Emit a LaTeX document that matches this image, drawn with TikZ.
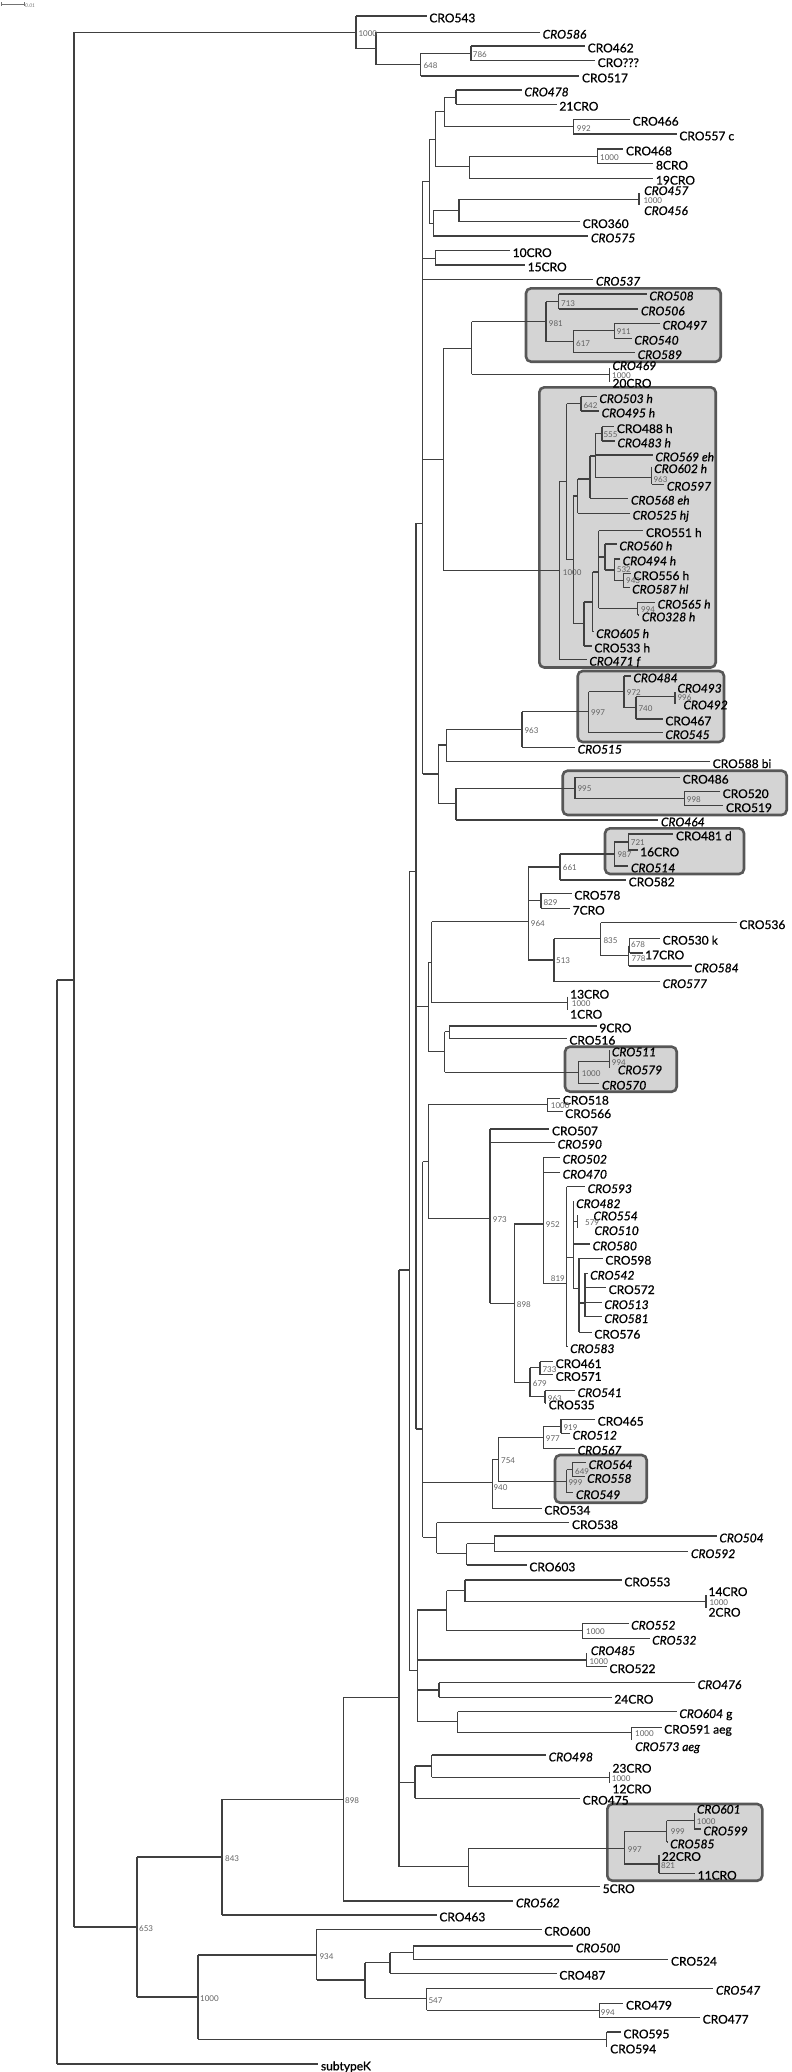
\documentclass[tikz,border=0pt]{standalone}
\usepackage{fontspec}
\setmainfont{Lato}
\newfontfamily\labfont{Lato}[FakeBold=0.9]
\newcommand\brn[2]{\draw[br] (#1 |- #2) -- (#2);}
\newcommand\vsp[3]{\draw[br] (#1 |- #2) -- (#1 |- #3);}
\begin{document}
\begin{tikzpicture}[x=1pt,y=-1pt,
  br/.style={line width=1.15pt,draw=black!75},
  lf/.style={anchor=west,inner xsep=2.5pt,inner ysep=0pt,text height=12.6pt,text depth=0pt,font=\labfont\fontsize{12}{12}\selectfont,text=black},
  li/.style={lf,font=\labfont\fontsize{12}{12}\selectfont\itshape},
  bs/.style={anchor=west,inner sep=0pt,text height=5.8pt,text depth=0pt,font=\fontsize{8}{8}\selectfont,text=black!62},
  cbox/.style={draw=black!66,line width=2.6pt,fill=black!17,rounded corners=5pt}]
\useasboundingbox (0,0) rectangle (792,2072);
% scale bar
\coordinate (sb1) at (1,4); \coordinate (sb2) at (24,4);
\draw[black!55,line width=0.6pt] (sb1) -- (sb2) ([yshift=2pt]sb1) -- ([yshift=-2pt]sb1) ([yshift=2pt]sb2) -- ([yshift=-2pt]sb2);
\node[anchor=west,inner sep=0pt,font=\fontsize{5}{5}\selectfont\itshape,text=black!55] (sbl) at (25,5.5) {0.01};
% boxes
\draw[cbox] (526,288.3) rectangle (720.7,361.7);
\draw[cbox] (539.3,387.3) rectangle (715.7,667.5);
\draw[cbox] (577.7,671) rectangle (724,742);
\draw[cbox] (562.7,770.7) rectangle (786.7,815);
\draw[cbox] (605,828.3) rectangle (744,874);
\draw[cbox] (565,1046.7) rectangle (676.7,1091.7);
\draw[cbox] (555,1455) rectangle (646.7,1502.7);
\draw[cbox] (607.3,1804) rectangle (762.3,1880.7);
% ---------------- leaves ----------------
\node[lf] (l543) at (426.7,16) {CRO543};
\node[li] (l586) at (540,32.3) {CRO586};
\node[lf] (l462) at (585,46) {CRO462};
\node[lf] (lq) at (595,60.7) {CRO???};
\node[lf] (l517) at (579.3,76) {CRO517};
\node[li] (l478) at (521.7,90) {CRO478};
\node[lf] (l21) at (556.7,104.3) {21CRO};
\node[lf] (l466) at (630,119.3) {CRO466};
\node[lf] (l557) at (676.7,134) {CRO557 c};
\node[lf] (l468) at (623.3,149) {CRO468};
\node[lf] (l8) at (653.3,163.3) {8CRO};
\node[lf] (l19) at (653.3,178.3) {19CRO};
\node[li] (l457) at (641.5,188.7) {CRO457};
\node[li] (l456) at (641.5,208.7) {CRO456};
\node[lf] (l360) at (580,221.7) {CRO360};
\node[li] (l575) at (588.3,236) {CRO575};
\node[lf] (l10) at (510,250.7) {10CRO};
\node[lf] (l15) at (525,265) {15CRO};
\node[li] (l537) at (593.3,279.3) {CRO537};
\node[li] (l508) at (646.7,294) {CRO508};
\node[li] (l506) at (638.3,309) {CRO506};
\node[li] (l497) at (660,323.3) {CRO497};
\node[li] (l540) at (631.7,338.3) {CRO540};
\node[li] (l589) at (635,352.7) {CRO589};
\node[li] (l469) at (609.8,363.7) {CRO469};
\node[lf] (l20) at (609.8,381.3) {20CRO};
\node[li] (l503) at (596.7,396.7) {CRO503 h};
\node[li] (l495) at (599,411) {CRO495 h};
\node[lf] (l488) at (614.2,426.7) {CRO488 h};
\node[li] (l483) at (614.8,441) {CRO483 h};
\node[li] (l569) at (652.7,455) {CRO569 eh};
\node[li] (l602) at (651.5,466.7) {CRO602 h};
\node[li] (l597) at (664.2,484.3) {CRO597};
\node[li] (l568) at (628.3,498.3) {CRO568 eh};
\node[li] (l525) at (630,513.3) {CRO525 hj};
\node[lf] (l551) at (643.3,530.7) {CRO551 h};
\node[li] (l560) at (616.7,544) {CRO560 h};
\node[li] (l494) at (620,559) {CRO494 h};
\node[lf] (l556) at (630.8,573.7) {CRO556 h};
\node[li] (l587) at (629.5,587.3) {CRO587 hl};
\node[li] (l565) at (655,602.3) {CRO565 h};
\node[li] (l328) at (639.2,615) {CRO328 h};
\node[li] (l605) at (593.5,631.7) {CRO605 h};
\node[lf] (l533) at (591.7,646) {CRO533 h};
\node[li] (l471) at (586.7,659.3) {CRO471 f};
\node[li] (l484) at (630.7,676) {CRO484};
\node[li] (l493) at (674.8,686.3) {CRO493};
\node[li] (l492) at (680.8,703) {CRO492};
\node[lf] (l467) at (662.7,719) {CRO467};
\node[li] (l545) at (662.7,732.7) {CRO545};
\node[li] (l515) at (575,747.3) {CRO515};
\node[lf] (l588) at (710,761.7) {CRO588 bi};
\node[lf] (l486) at (680,777.3) {CRO486};
\node[lf] (l520) at (720,791.7) {CRO520};
\node[lf] (l519) at (723.3,805.7) {CRO519};
\node[li] (l464) at (658.3,820) {CRO464};
\node[lf] (l481) at (673.3,834) {CRO481 d};
\node[lf] (l16) at (637.5,850) {16CRO};
\node[li] (l514) at (628.3,866) {CRO514};
\node[lf] (l582) at (626,880) {CRO582};
\node[lf] (l578) at (571.7,893.3) {CRO578};
\node[lf] (l7) at (570,908.3) {7CRO};
\node[lf] (l536) at (736.7,922.7) {CRO536};
\node[lf] (l530) at (660,938.3) {CRO530 k};
\node[lf] (l17) at (642.5,953) {17CRO};
\node[li] (l584) at (691.7,966) {CRO584};
\node[li] (l577) at (660,981.7) {CRO577};
\node[lf] (l13) at (567.5,992.3) {13CRO};
\node[lf] (l1) at (567.5,1012.3) {1CRO};
\node[lf] (l9) at (596.7,1026) {9CRO};
\node[lf] (l516) at (566.7,1038.3) {CRO516};
\node[li] (l511) at (609.2,1050) {CRO511};
\node[li] (l579) at (615.2,1068) {CRO579};
\node[li] (l570) at (599.3,1083.3) {CRO570};
\node[lf] (l518) at (560.2,1098.3) {CRO518};
\node[lf] (l566) at (562.5,1111.7) {CRO566};
\node[lf] (l507) at (549.3,1129) {CRO507};
\node[li] (l590) at (555,1142.3) {CRO590};
\node[li] (l502) at (560,1157.3) {CRO502};
\node[li] (l470) at (560,1172.3) {CRO470};
\node[li] (l593) at (585,1186.7) {CRO593};
\node[li] (l482) at (573.5,1201.7) {CRO482};
\node[li] (l554) at (590.8,1214) {CRO554};
\node[li] (l510) at (591.8,1228.7) {CRO510};
\node[li] (l580) at (590,1244) {CRO580};
\node[lf] (l598) at (602.7,1258.3) {CRO598};
\node[li] (l542) at (587.5,1273.3) {CRO542};
\node[lf] (l572) at (606,1287.7) {CRO572};
\node[li] (l513) at (601.7,1302.7) {CRO513};
\node[li] (l581) at (601.7,1316.7) {CRO581};
\node[lf] (l576) at (591.7,1332.3) {CRO576};
\node[li] (l583) at (567.5,1346.7) {CRO583};
\node[lf] (l461) at (553,1361.7) {CRO461};
\node[lf] (l571) at (553,1374.5) {CRO571};
\node[li] (l541) at (575,1390.7) {CRO541};
\node[lf] (l535) at (546,1403) {CRO535};
\node[lf] (l465) at (595,1419.3) {CRO465};
\node[li] (l512) at (570,1433.3) {CRO512};
\node[li] (l567) at (575,1448.3) {CRO567};
\node[li] (l564) at (586,1462.7) {CRO564};
\node[li] (l558) at (584.5,1476.5) {CRO558};
\node[li] (l549) at (573.3,1492.7) {CRO549};
\node[lf] (l534) at (541.7,1508.3) {CRO534};
\node[lf] (l538) at (569.3,1522.7) {CRO538};
\node[li] (l504) at (716.7,1536) {CRO504};
\node[li] (l592) at (688.3,1551.7) {CRO592};
\node[lf] (l603) at (526.7,1565) {CRO603};
\node[lf] (l553) at (621.7,1580) {CRO553};
\node[lf] (l14) at (705.8,1589.7) {14CRO};
\node[lf] (l2) at (705.8,1610.3) {2CRO};
\node[li] (l552) at (628.5,1623.3) {CRO552};
\node[li] (l532) at (649.5,1638.3) {CRO532};
\node[li] (l485) at (588.2,1648.7) {CRO485};
\node[lf] (l522) at (606.8,1666.7) {CRO522};
\node[li] (l476) at (695,1682.7) {CRO476};
\node[lf] (l24) at (611.7,1697.3) {24CRO};
\node[lf] (l604) at (676.7,1711.7) {{\itshape CRO604} g};
\node[lf] (l591) at (661.5,1727.3) {CRO591 aeg};
\node[li] (l573) at (632.5,1744.7) {CRO573 aeg};
\node[li] (l498) at (546,1755) {CRO498};
\node[lf] (l23) at (609.8,1766.3) {23CRO};
\node[lf] (l12) at (609.8,1787) {12CRO};
\node[lf] (l475) at (580,1798.3) {CRO475};
\node[li] (l601) at (694.2,1807.3) {CRO601};
\node[li] (l599) at (700.8,1829) {CRO599};
\node[li] (l585) at (667.5,1842) {CRO585};
\node[lf] (l22) at (659.2,1854.5) {22CRO};
\node[lf] (l11) at (695,1873.3) {11CRO};
\node[lf] (l5) at (600,1886.7) {5CRO};
\node[li] (l562) at (513.3,1901) {CRO562};
\node[lf] (l463) at (436.7,1915) {CRO463};
\node[lf] (l600) at (541.7,1929.3) {CRO600};
\node[li] (l500) at (573.3,1946) {CRO500};
\node[lf] (l524) at (668.3,1959.3) {CRO524};
\node[lf] (l487) at (556.7,1973.3) {CRO487};
\node[li] (l547) at (713.3,1988.3) {CRO547};
\node[lf] (l479) at (623.3,2003.3) {CRO479};
\node[lf] (l477) at (700,2017.3) {CRO477};
\node[lf] (l595) at (620.8,2032) {CRO595};
\node[lf] (l594) at (607.5,2047) {CRO594};
\node[lf] (lK) at (318.3,2064) {subtypeK};
% ---------------- internal nodes ----------------
\coordinate (ntop) at (356,32.3);
\coordinate (na1) at (376,48.5);
\coordinate (n648) at (420.7,64.7);
\coordinate (n786) at (471,53.3);
\coordinate (n478) at (456,97.2);
\coordinate (n992) at (573.3,126.7);
\coordinate (na) at (444.7,111.7);
\coordinate (n1000b) at (597.3,156.2);
\coordinate (nb2) at (469.3,166.7);
\coordinate (na2) at (435.3,139.3);
\coordinate (n1000c) at (639,199.3);
\coordinate (nc360) at (459,210.5);
\coordinate (n575) at (433.3,223.3);
\coordinate (nb) at (429.3,181.3);
\coordinate (n10) at (435.3,258.3);
\coordinate (nC) at (422.7,523.3);
\coordinate (n713) at (558.7,301.5);
\coordinate (n911) at (614.3,330.8);
\coordinate (n617) at (573.3,341.7);
\coordinate (n981) at (546,321.7);
\coordinate (n1000d) at (609.3,374.3);
\coordinate (ne2) at (471.7,348.2);
\coordinate (nD) at (443.3,459.3);
\coordinate (n642) at (581,403.8);
\coordinate (n555) at (602,433.8);
\coordinate (n963b) at (651.7,477.2);
\coordinate (n946) at (595.3,456);
\coordinate (n930) at (590,479);
\coordinate (n893) at (577.7,496);
\coordinate (n943) at (623.3,580.5);
\coordinate (n532) at (614.3,570);
\coordinate (n975) at (605,557);
\coordinate (n994b) at (637.7,608.3);
\coordinate (n956) at (598.7,572);
\coordinate (n938) at (592.7,602);
\coordinate (n912) at (584,623.3);
\coordinate (n880) at (573.3,559.7);
\coordinate (n860) at (566.7,481.7);
\coordinate (n1000x) at (559.3,570.7);
\coordinate (n996) at (675,696.7);
\coordinate (n740) at (636,707.8);
\coordinate (n972) at (624,691.5);
\coordinate (n997) at (588.7,711.5);
\coordinate (n963c) at (522,729.3);
\coordinate (nF) at (446.7,745);
\coordinate (nE) at (438.3,774);
\coordinate (n998) at (684.3,798.7);
\coordinate (n995) at (575,788.3);
\coordinate (nG) at (456,803.3);
\coordinate (n721) at (628.3,842);
\coordinate (n987) at (614.3,854);
\coordinate (n661) at (560,867);
\coordinate (n829) at (541,900.8);
\coordinate (n678) at (629.5,945.7);
\coordinate (n778) at (628.5,955.5);
\coordinate (n835) at (600.7,938.8);
\coordinate (n513) at (554,960);
\coordinate (n964) at (528.3,921.7);
\coordinate (n1000e) at (567.3,1002.7);
\coordinate (nK2) at (431.7,962.7);
\coordinate (n9) at (449.3,1031.7);
\coordinate (n994c) at (609.3,1061.7);
\coordinate (n1000f) at (578.3,1072.3);
\coordinate (nK3) at (444.7,1051.7);
\coordinate (nK1) at (428.3,1006.7);
\coordinate (n1000g) at (547.7,1104.7);
\coordinate (n579) at (577.7,1221.7);
\coordinate (n915) at (585,1303);
\coordinate (n897) at (579,1288.3);
\coordinate (nKk) at (573.3,1257.3);
\coordinate (nL) at (566.7,1283.3);
\coordinate (nM) at (543.3,1224);
\coordinate (n733) at (540,1367.5);
\coordinate (n963d) at (545,1396.5);
\coordinate (n679) at (530,1382.3);
\coordinate (nO) at (514.3,1303.3);
\coordinate (n973) at (490,1218.3);
\coordinate (nH) at (428.3,1161.7);
\coordinate (n919) at (561,1426.3);
\coordinate (n977) at (543.3,1437.5);
\coordinate (n649) at (572.3,1469.6);
\coordinate (n999) at (566.7,1481.5);
\coordinate (n754) at (498.3,1459.3);
\coordinate (n940) at (492.3,1482.7);
\coordinate (n504) at (494.3,1543.8);
\coordinate (n603) at (466.7,1553.3);
\coordinate (n538) at (436.7,1537.3);
\coordinate (nI) at (422.7,1429);
\coordinate (nJ) at (416,871.7);
\coordinate (n1000j) at (706,1601.5);
\coordinate (n465) at (465,1590.7);
\coordinate (n1000i) at (582.3,1630.8);
\coordinate (n446) at (446.7,1610);
\coordinate (n1000h) at (586.7,1660);
\coordinate (n439) at (439,1690);
\coordinate (n1000k) at (631.7,1732.7);
\coordinate (n457) at (457.7,1721.7);
\coordinate (n417) at (417.3,1670.7);
\coordinate (nQ) at (409.3,1270);
\coordinate (n1000l) at (609.3,1777.2);
\coordinate (n431) at (431.7,1766);
\coordinate (n415) at (415,1782.7);
\coordinate (n1000m) at (694.3,1820.7);
\coordinate (n999b) at (666.7,1831.5);
\coordinate (n821) at (659,1864);
\coordinate (n997b) at (624.3,1848.3);
\coordinate (n468) at (468.3,1866.7);
\coordinate (nP) at (399,1697.3);
\coordinate (nR) at (343.3,1799.3);
\coordinate (n843) at (222,1857);
\coordinate (n413) at (413.3,1952.6);
\coordinate (n390) at (390,1962.7);
\coordinate (n994d) at (599.3,2010.3);
\coordinate (n547) at (426.7,1998.3);
\coordinate (n365) at (365,1980);
\coordinate (n934) at (316.7,1955);
\coordinate (n595) at (606.7,2039.3);
\coordinate (n1000n) at (198,1997);
\coordinate (n653) at (137,1927);
\coordinate (n74) at (74,980);
\coordinate (n57) at (57,1522);
% ---------------- branches ----------------
\brn{ntop}{l543.west} \brn{ntop}{na1} \vsp{ntop}{l543.west}{na1}
\brn{na1}{l586.west} \brn{na1}{n648} \vsp{na1}{l586.west}{n648}
\brn{n648}{n786} \brn{n648}{l517.west} \vsp{n648}{n786}{l517.west}
\brn{n786}{l462.west} \brn{n786}{lq.west} \vsp{n786}{l462.west}{lq.west}
\brn{n478}{l478.west} \brn{n478}{l21.west} \vsp{n478}{l478.west}{l21.west}
\brn{n992}{l466.west} \brn{n992}{l557.west} \vsp{n992}{l466.west}{l557.west}
\brn{na}{n478} \brn{na}{n992} \vsp{na}{n478}{n992}
\brn{n1000b}{l468.west} \brn{n1000b}{l8.west} \vsp{n1000b}{l468.west}{l8.west}
\brn{nb2}{n1000b} \brn{nb2}{l19.west} \vsp{nb2}{n1000b}{l19.west}
\brn{na2}{na} \brn{na2}{nb2} \vsp{na2}{na}{nb2}
\draw[br] (n1000c) ++(0,-6) -- ++(0,12);
\brn{nc360}{n1000c} \brn{nc360}{l360.west} \vsp{nc360}{n1000c}{l360.west}
\brn{n575}{nc360} \brn{n575}{l575.west} \vsp{n575}{nc360}{l575.west}
\brn{nb}{na2} \brn{nb}{n575} \vsp{nb}{na2}{n575}
\brn{n10}{l10.west} \brn{n10}{l15.west} \vsp{n10}{l10.west}{l15.west}
\brn{nC}{nb} \brn{nC}{n10} \brn{nC}{l537.west} \brn{nC}{nD} \brn{nC}{nE} \vsp{nC}{nb}{nE}
% box 1
\brn{n713}{l508.west} \brn{n713}{l506.west} \vsp{n713}{l508.west}{l506.west}
\brn{n911}{l497.west} \brn{n911}{l540.west} \vsp{n911}{l497.west}{l540.west}
\brn{n617}{n911} \brn{n617}{l589.west} \vsp{n617}{n911}{l589.west}
\brn{n981}{n713} \brn{n981}{n617} \vsp{n981}{n713}{n617}
\draw[br] (n1000d) ++(0,-6) -- ++(0,13.4);
\brn{ne2}{n981} \brn{ne2}{n1000d} \vsp{ne2}{n981}{n1000d}
\brn{nD}{ne2} \brn{nD}{n1000x} \vsp{nD}{ne2}{n1000x}
% box 2
\brn{n642}{l503.west} \brn{n642}{l495.west} \vsp{n642}{l503.west}{l495.west}
\brn{n555}{l488.west} \brn{n555}{l483.west} \vsp{n555}{l488.west}{l483.west}
\brn{n963b}{l597.west} \vsp{n963b}{l602.west}{l597.west}
\brn{n946}{n555} \brn{n946}{l569.west} \brn{n946}{n963b} \vsp{n946}{n555}{n963b}
\brn{n930}{n946} \brn{n930}{l568.west} \vsp{n930}{n946}{l568.west}
\brn{n893}{n930} \brn{n893}{l525.west} \vsp{n893}{n930}{l525.west}
\brn{n943}{l556.west} \brn{n943}{l587.west} \vsp{n943}{l556.west}{l587.west}
\brn{n532}{l494.west} \brn{n532}{n943} \vsp{n532}{l494.west}{n943}
\brn{n975}{l560.west} \brn{n975}{n532} \vsp{n975}{l560.west}{n532}
\brn{n994b}{l565.west} \brn{n994b}{l328.west} \vsp{n994b}{l565.west}{l328.west}
\brn{n956}{l551.west} \brn{n956}{n975} \brn{n956}{n994b} \vsp{n956}{l551.west}{n994b}
\brn{n938}{n956} \brn{n938}{l605.west} \vsp{n938}{n956}{l605.west}
\brn{n912}{n938} \brn{n912}{l533.west} \vsp{n912}{n938}{l533.west}
\brn{n880}{n893} \brn{n880}{n912} \vsp{n880}{n893}{n912}
\brn{n860}{n642} \brn{n860}{n880} \vsp{n860}{n642}{n880}
\brn{n1000x}{n860} \brn{n1000x}{l471.west} \vsp{n1000x}{n860}{l471.west}
% box 3
\draw[br] (n996) ++(0,-4.7) -- ++(0,12);
\brn{n740}{n996} \brn{n740}{l467.west} \vsp{n740}{n996}{l467.west}
\brn{n972}{l484.west} \brn{n972}{n740} \vsp{n972}{l484.west}{n740}
\brn{n997}{n972} \brn{n997}{l545.west} \vsp{n997}{n972}{l545.west}
\brn{n963c}{n997} \brn{n963c}{l515.west} \vsp{n963c}{n997}{l515.west}
\brn{nF}{n963c} \brn{nF}{l588.west} \vsp{nF}{n963c}{l588.west}
\brn{nE}{nF} \brn{nE}{nG} \vsp{nE}{nF}{nG}
% box 4
\brn{n998}{l520.west} \brn{n998}{l519.west} \vsp{n998}{l520.west}{l519.west}
\brn{n995}{l486.west} \brn{n995}{n998} \vsp{n995}{l486.west}{n998}
\brn{nG}{n995} \brn{nG}{l464.west} \vsp{nG}{n995}{l464.west}
% box 5 and neighbours
\brn{n721}{l481.west} \brn{n721}{l16.west} \vsp{n721}{l481.west}{l16.west}
\brn{n987}{n721} \brn{n987}{l514.west} \vsp{n987}{n721}{l514.west}
\brn{n661}{n987} \brn{n661}{l582.west} \vsp{n661}{n987}{l582.west}
\brn{n829}{l578.west} \brn{n829}{l7.west} \vsp{n829}{l578.west}{l7.west}
\brn{n678}{l530.west} \brn{n678}{l17.west} \vsp{n678}{l530.west}{l17.west}
\brn{n778}{n678} \brn{n778}{l584.west} \vsp{n778}{n678}{l584.west}
\brn{n835}{l536.west} \brn{n835}{n778} \vsp{n835}{l536.west}{n778}
\brn{n513}{n835} \brn{n513}{l577.west} \vsp{n513}{n835}{l577.west}
\brn{n964}{n661} \brn{n964}{n829} \brn{n964}{n513} \vsp{n964}{n661}{n513}
\draw[br] (n1000e) ++(0,-6) -- ++(0,13.3);
\brn{nK2}{n964} \brn{nK2}{n1000e} \vsp{nK2}{n964}{n1000e}
\brn{n9}{l9.west} \brn{n9}{l516.west} \vsp{n9}{l9.west}{l516.west}
\draw[br] (n994c) ++(0,-11.7) -- ++(0,18.3);
\brn{n1000f}{n994c} \brn{n1000f}{l570.west} \vsp{n1000f}{n994c}{l570.west}
\brn{nK3}{n9} \brn{nK3}{n1000f} \vsp{nK3}{n9}{n1000f}
\brn{nK1}{nK2} \brn{nK1}{nK3} \vsp{nK1}{nK2}{nK3}
% H clade
\brn{n1000g}{l518.west} \brn{n1000g}{l566.west} \vsp{n1000g}{l518.west}{l566.west}
\draw[br] (n579) ++(0,-6.7) -- ++(0,13.3);
\brn{n915}{l542.west} \brn{n915}{l572.west} \brn{n915}{l513.west} \brn{n915}{l581.west} \vsp{n915}{l542.west}{l581.west}
\brn{n897}{l598.west} \brn{n897}{n915} \brn{n897}{l576.west} \vsp{n897}{l598.west}{l576.west}
\brn{nKk}{l482.west} \brn{nKk}{n579} \brn{nKk}{l580.west} \brn{nKk}{n897} \vsp{nKk}{l482.west}{n897}
\brn{nL}{l593.west} \brn{nL}{nKk} \brn{nL}{l583.west} \vsp{nL}{l593.west}{l583.west}
\brn{nM}{l502.west} \brn{nM}{l470.west} \brn{nM}{nL} \vsp{nM}{l502.west}{nL}
\brn{n733}{l461.west} \brn{n733}{l571.west} \vsp{n733}{l461.west}{l571.west}
\brn{n963d}{l541.west} \brn{n963d}{l535.west} \vsp{n963d}{l541.west}{l535.west}
\brn{n679}{n733} \brn{n679}{n963d} \vsp{n679}{n733}{n963d}
\brn{nO}{nM} \brn{nO}{n679} \vsp{nO}{nM}{n679}
\brn{n973}{l507.west} \brn{n973}{l590.west} \brn{n973}{nO} \vsp{n973}{l507.west}{nO}
\brn{nH}{n1000g} \brn{nH}{n973} \vsp{nH}{n1000g}{n973}
\brn{n919}{l465.west} \brn{n919}{l512.west} \vsp{n919}{l465.west}{l512.west}
\brn{n977}{n919} \brn{n977}{l567.west} \vsp{n977}{n919}{l567.west}
\brn{n649}{l564.west} \brn{n649}{l558.west} \vsp{n649}{l564.west}{l558.west}
\brn{n999}{n649} \brn{n999}{l549.west} \vsp{n999}{n649}{l549.west}
\brn{n754}{n977} \brn{n754}{n999} \vsp{n754}{n977}{n999}
\brn{n940}{n754} \brn{n940}{l534.west} \vsp{n940}{n754}{l534.west}
\brn{n504}{l504.west} \brn{n504}{l592.west} \vsp{n504}{l504.west}{l592.west}
\brn{n603}{n504} \brn{n603}{l603.west} \vsp{n603}{n504}{l603.west}
\brn{n538}{l538.west} \brn{n538}{n603} \vsp{n538}{l538.west}{n603}
\brn{nI}{nH} \brn{nI}{n940} \brn{nI}{n538} \vsp{nI}{nH}{n538}
\brn{nJ}{nC} \brn{nJ}{nK1} \brn{nJ}{nI} \vsp{nJ}{nC}{nI}
% lower clades
\draw[br] (n1000j) ++(0,-6.5) -- ++(0,13.3);
\brn{n465}{l553.west} \brn{n465}{n1000j} \vsp{n465}{l553.west}{n1000j}
\brn{n1000i}{l552.west} \brn{n1000i}{l532.west} \vsp{n1000i}{l552.west}{l532.west}
\brn{n446}{n465} \brn{n446}{n1000i} \vsp{n446}{n465}{n1000i}
\brn{n1000h}{l522.west} \draw[br] (n1000h) ++(0,-6.7) -- (n1000h |- l522.west);
\brn{n439}{l476.west} \brn{n439}{l24.west} \vsp{n439}{l476.west}{l24.west}
\brn{n1000k}{l591.west} \draw[br] (n1000k |- l591.west) -- ++(0,12.7);
\brn{n457}{l604.west} \brn{n457}{n1000k} \vsp{n457}{l604.west}{n1000k}
\brn{n417}{n446} \brn{n417}{n1000h} \brn{n417}{n439} \brn{n417}{n457} \vsp{n417}{n446}{n457}
\brn{nQ}{nJ} \brn{nQ}{n417} \vsp{nQ}{nJ}{n417}
\draw[br] (n1000l) ++(0,-5.5) -- ++(0,11);
\brn{n431}{l498.west} \brn{n431}{n1000l} \vsp{n431}{l498.west}{n1000l}
\brn{n415}{n431} \brn{n415}{l475.west} \vsp{n415}{n431}{l475.west}
\brn{n1000m}{l599.west} \draw[br] (n1000m) ++(0,-7.4) -- (n1000m |- l599.west);
\brn{n999b}{n1000m} \brn{n999b}{l585.west} \vsp{n999b}{n1000m}{l585.west}
\brn{n821}{l11.west} \vsp{n821}{l22.west}{l11.west}
\brn{n997b}{n999b} \brn{n997b}{n821} \vsp{n997b}{n999b}{n821}
\brn{n468}{n997b} \brn{n468}{l5.west} \vsp{n468}{n997b}{l5.west}
\brn{nP}{nQ} \brn{nP}{n415} \brn{nP}{n468} \vsp{nP}{nQ}{n468}
\brn{nR}{nP} \brn{nR}{l562.west} \vsp{nR}{nP}{l562.west}
\brn{n843}{nR} \brn{n843}{l463.west} \vsp{n843}{nR}{l463.west}
\brn{n413}{l500.west} \brn{n413}{l524.west} \vsp{n413}{l500.west}{l524.west}
\brn{n390}{n413} \brn{n390}{l487.west} \vsp{n390}{n413}{l487.west}
\brn{n994d}{l479.west} \brn{n994d}{l477.west} \vsp{n994d}{l479.west}{l477.west}
\brn{n547}{l547.west} \brn{n547}{n994d} \vsp{n547}{l547.west}{n994d}
\brn{n365}{n390} \brn{n365}{n547} \vsp{n365}{n390}{n547}
\brn{n934}{l600.west} \brn{n934}{n365} \vsp{n934}{l600.west}{n365}
\brn{n595}{l595.west} \vsp{n595}{l595.west}{l594.west}
\brn{n1000n}{n934} \brn{n1000n}{n595} \vsp{n1000n}{n934}{n595}
\brn{n653}{n843} \brn{n653}{n1000n} \vsp{n653}{n843}{n1000n}
\brn{n74}{ntop} \brn{n74}{n653} \vsp{n74}{ntop}{n653}
\brn{n57}{n74} \brn{n57}{lK.west} \vsp{n57}{n74}{lK.west}
% ---------------- bootstrap values ----------------
\node[bs] (b1) at (358.3,33.5) {1000};
\node[bs] (b2) at (472.7,54.5) {786};
\node[bs] (b3) at (423.3,66) {648};
\node[bs] (b4) at (576.7,128.3) {992};
\node[bs] (b5) at (600,157.5) {1000};
\node[bs] (b6) at (643.3,200.7) {1000};
\node[bs] (b7) at (561,303.3) {713};
\node[bs] (b8) at (548.7,323.3) {981};
\node[bs] (b9) at (616.7,331.7) {911};
\node[bs] (b10) at (576,343.3) {617};
\node[bs] (b11) at (612,375.5) {1000};
\node[bs] (b12) at (583.3,406) {642};
\node[bs] (b13) at (603.3,435) {555};
\node[bs] (b14) at (653.3,479.3) {963};
\node[bs] (b15) at (616.7,569.3) {532};
\node[bs] (b16) at (626,580.5) {943};
\node[bs] (b17) at (641,610) {994};
\node[bs] (b18) at (562.7,572.5) {1000};
\node[bs] (b19) at (677.3,697.7) {996};
\node[bs] (b20) at (638.3,708.3) {740};
\node[bs] (b21) at (626.7,692.7) {972};
\node[bs] (b22) at (591,712.7) {997};
\node[bs] (b23) at (524.3,731) {963};
\node[bs] (b24) at (577.3,788.3) {995};
\node[bs] (b25) at (686.7,799.3) {998};
\node[bs] (b26) at (630.7,842.7) {721};
\node[bs] (b27) at (617.3,854.3) {987};
\node[bs] (b28) at (562.7,867.3) {661};
\node[bs] (b29) at (543.3,902.7) {829};
\node[bs] (b30) at (631,945) {678};
\node[bs] (b31) at (631.5,959) {778};
\node[bs] (b32) at (603.3,940.7) {835};
\node[bs] (b33) at (556,961) {513};
\node[bs] (b34) at (530.7,923.3) {964};
\node[bs] (b35) at (571.7,1004) {1000};
\node[bs] (b36) at (611.7,1062.7) {994};
\node[bs] (b37) at (581.7,1074) {1000};
\node[bs] (b38) at (550.7,1105.7) {1000};
\node[bs] (b39) at (492.7,1220) {973};
\node[bs] (b40) at (545.7,1225) {952};
\node[bs] (b41) at (585,1222.7) {579};
\node[bs] (b42) at (550.7,1278.3) {819};
\node[bs] (b43) at (516.7,1304.5) {898};
\node[bs] (b44) at (542.3,1369.3) {733};
\node[bs] (b45) at (532.7,1383.3) {679};
\node[bs] (b46) at (547.7,1398.3) {963};
\node[bs] (b47) at (563.3,1427.3) {919};
\node[bs] (b48) at (545.7,1438.3) {977};
\node[bs] (b49) at (501,1460.7) {754};
\node[bs] (b50) at (575,1471.7) {649};
\node[bs] (b51) at (568.3,1482.3) {999};
\node[bs] (b52) at (493.3,1487.3) {940};
\node[bs] (b53) at (709.3,1602.3) {1000};
\node[bs] (b54) at (586,1631.7) {1000};
\node[bs] (b55) at (589.3,1661.7) {1000};
\node[bs] (b56) at (635,1734) {1000};
\node[bs] (b57) at (611.7,1778.3) {1000};
\node[bs] (b58) at (696.7,1821.7) {1000};
\node[bs] (b59) at (670.7,1831.7) {999};
\node[bs] (b60) at (627.7,1849.3) {997};
\node[bs] (b61) at (661,1865.7) {821};
\node[bs] (b62) at (345,1800.7) {898};
\node[bs] (b63) at (225,1858.5) {843};
\node[bs] (b64) at (319.3,1956.7) {934};
\node[bs] (b65) at (428.3,2000.7) {547};
\node[bs] (b66) at (600.7,2012.7) {994};
\node[bs] (b67) at (200,1999) {1000};
\node[bs] (b68) at (139,1928.5) {653};
\end{tikzpicture}
\end{document}
